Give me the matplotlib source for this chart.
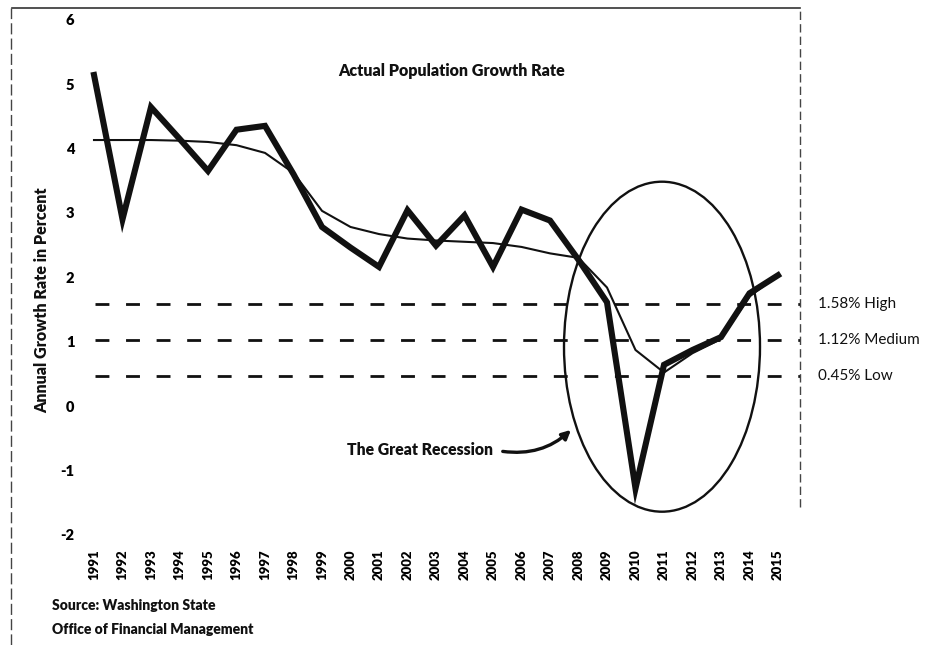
import matplotlib
matplotlib.use("Agg")
import matplotlib.pyplot as plt
from matplotlib.patches import Ellipse, FancyArrowPatch
from matplotlib.lines import Line2D

# ---- data ----
years = list(range(1991, 2016))
actual = [5.14, 2.90, 4.64, 4.15, 3.65, 4.29, 4.35, 3.60, 2.78, 2.46, 2.16, 3.04, 2.49,
          2.96, 2.16, 3.05, 2.88, 2.27, 1.61, -1.28, 0.64, 0.87, 1.07, 1.75, 2.03]
trend = [4.13, 4.13, 4.13, 4.12, 4.10, 4.05, 3.93, 3.62, 3.03, 2.78, 2.67, 2.60, 2.57,
         2.55, 2.53, 2.47, 2.37, 2.30, 1.84, 0.87, 0.52, 0.82, 1.04, 1.70, 2.03]
proj_levels = [1.59, 1.02, 0.46]
proj_labels = ["1.58% High", "1.12% Medium", "0.45% Low"]
yticks = [-2, -1, 0, 1, 2, 3, 4, 5, 6]
title = "Actual Population Growth Rate"
ylabel = "Annual Growth Rate in Percent"
annot = "The Great Recession"
source = ["Source: Washington State", "Office of Financial Management"]

W, H = 927, 645
fig = plt.figure(figsize=(W / 100, H / 100), dpi=100)
fig.patch.set_facecolor("white")

# pixel mapping helpers for layout only
x0px, slope = 94.0, 28.5
def yr_at(px):
    return 1991 + (px - x0px) / slope
def val_at(py):
    return (406.0 - py) / 64.4

ax_l, ax_r = 80, 800
ax_t, ax_b = 13.2, 541.2
ax = fig.add_axes([ax_l / W, 1 - ax_b / H, (ax_r - ax_l) / W, (ax_b - ax_t) / H])
ax.set_xlim(yr_at(ax_l), yr_at(ax_r))
ax.set_ylim(val_at(ax_b), val_at(ax_t))
for s in ax.spines.values():
    s.set_visible(False)

fam = ["Lato", "DejaVu Sans"]
ax.set_yticks(yticks)
ax.set_yticklabels([str(t) for t in yticks], fontsize=10.5, fontweight="heavy", family=fam)
ax.set_xticks(years)
ax.set_xticklabels([str(y) for y in years], rotation=90, fontsize=9.5,
                   fontweight="heavy", family=fam)
ax.tick_params(axis="both", length=0)
ax.tick_params(axis="y", pad=4)
ax.tick_params(axis="x", pad=6)

ink = "#111111"
# projection dashed lines
for lv in proj_levels:
    ax.plot([yr_at(95), yr_at(800)], [lv, lv], color=ink, lw=2.0,
            dashes=(5, 6), clip_on=False)
for lv, lab in zip(proj_levels, proj_labels):
    ax.text(yr_at(818), lv, lab, fontsize=11, family=fam, va="center", ha="left",
            color=ink, clip_on=False)

# lines
ax.plot(years, trend, color=ink, lw=1.5, solid_joinstyle="round")
ax.plot(years, actual, color=ink, lw=4.4, solid_joinstyle="miter")

# ellipse around the recession
ax.add_patch(Ellipse((yr_at(662), val_at(346.7)), 196 / slope, 330 / 64.4,
                     fill=False, edgecolor=ink, lw=1.7))

# title and annotation
ax.text(yr_at(452), val_at(71), title, fontsize=11.5, fontweight="heavy", family=fam,
        ha="center", va="center", color=ink)
ax.text(yr_at(493), val_at(450), annot, fontsize=11.3, fontweight="heavy", family=fam,
        ha="right", va="center", color=ink)
ax.add_patch(FancyArrowPatch((yr_at(500), val_at(451)), (yr_at(573), val_at(428)),
                             connectionstyle="arc3,rad=0.25", arrowstyle="-|>",
                             mutation_scale=13, lw=2.4, color=ink))

# y label and source
fig.text(42 / W, 1 - 300 / H, ylabel, rotation=90, fontsize=11.5, fontweight="heavy",
         family=fam, ha="center", va="center", color=ink)
fig.text(52 / W, 1 - 606 / H, source[0], fontsize=10, fontweight="heavy", family=fam,
         ha="left", va="center", color=ink)
fig.text(52 / W, 1 - 630 / H, source[1], fontsize=10, fontweight="heavy", family=fam,
         ha="left", va="center", color=ink)

# scanned frame edges
fig.add_artist(Line2D([12 / W, 800 / W], [1 - 8 / H, 1 - 8 / H], color="#333333", lw=1.2))
fig.add_artist(Line2D([11 / W, 11 / W], [0, 1 - 8 / H], color="#444444", lw=1.0,
                      dashes=(8, 3)))
fig.add_artist(Line2D([800 / W, 800 / W], [1 - 507 / H, 1 - 8 / H], color="#444444",
                      lw=1.0, dashes=(6, 3)))

fig.savefig("out.png", dpi=100, facecolor="white")
